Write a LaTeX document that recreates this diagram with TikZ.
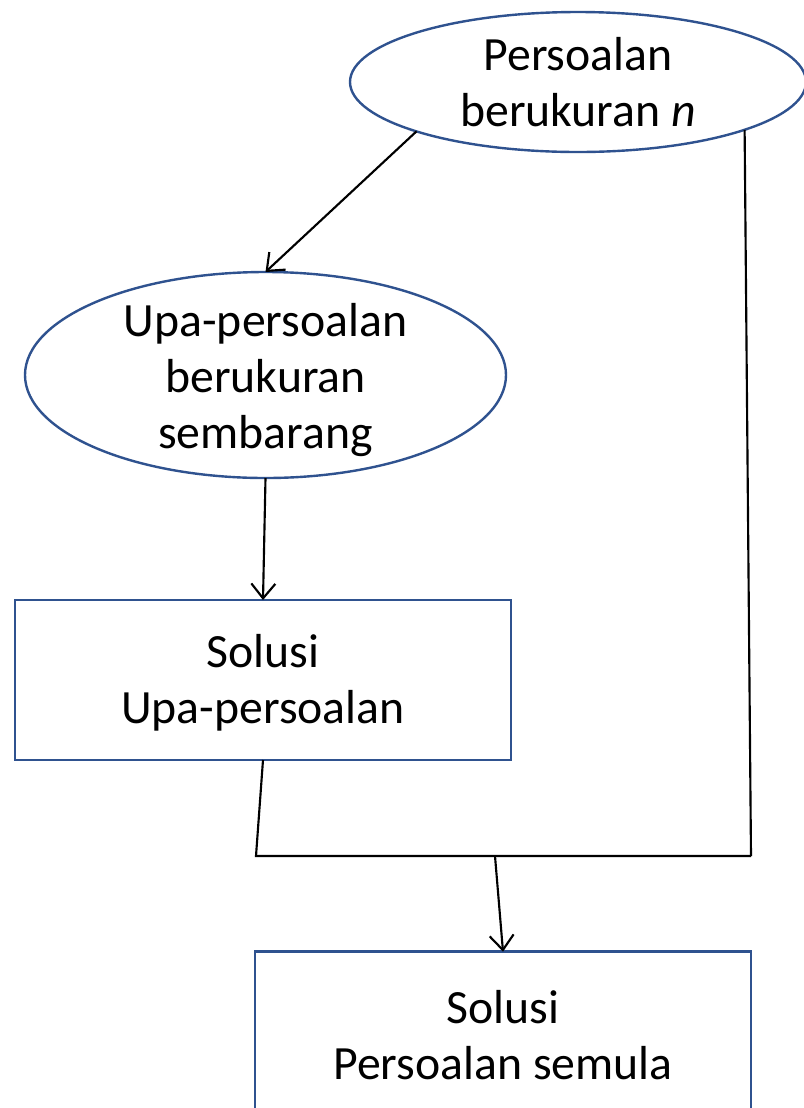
\documentclass[tikz,border=0pt]{standalone}
\usepackage{fontspec}
\setmainfont{Carlito}
\usetikzlibrary{shapes.geometric,arrows.meta}
\definecolor{shapeblue}{HTML}{2F528F}
\begin{document}
\begin{tikzpicture}[x=0.75pt,y=-0.75pt,
  shapeline/.style={draw=shapeblue,line width=1.8pt},
  oval/.style={shapeline,ellipse,inner sep=0pt,outer sep=0pt},
  boxnode/.style={shapeline,rectangle,inner sep=0pt,outer sep=0pt},
  label text/.style={align=center,font=\fontsize{35.8pt}{42pt}\selectfont,inner sep=0pt},
  conn/.style={draw=black,line width=1.6pt},
  arr/.style={conn,-{Straight Barb[length=11pt,width=18pt,line width=1.6pt]}}]
\useasboundingbox (0,0) rectangle (804,1108);
\fill[white] (0,0) rectangle (804,1108);
% nodes
\node[oval,minimum width=342pt,minimum height=105pt] (top) at (578,82) {};
\node[label text] (toptext) at (578,82) {Persoalan\\berukuran \textit{n}};
\node[oval,minimum width=360.75pt,minimum height=154.5pt] (mid) at (265.5,375) {};
\node[label text] (midtext) at (265.5,380) {Upa-persoalan\\berukuran\\sembarang};
\node[boxnode,minimum width=372pt,minimum height=120pt] (sub) at (263,680) {};
\node[label text] (subtext) at (263,683) {Solusi\\Upa-persoalan};
\node[boxnode,minimum width=372pt,minimum height=122pt] (orig) at (503,1033) {};
\node[label text] (origtext) at (503,1035) {Solusi\\Persoalan semula};
% junctions
\coordinate (jl) at (256,856);
\coordinate (jr) at (751,856);
\coordinate (jm) at (495,856);
% connectors
\draw[arr] (top.197) -- (mid.north);
\draw[arr] (mid.south) -- (sub.north);
\draw[conn] (top.-16) -- (jr);
\draw[conn] (sub.south) -- (jl) -- (jr);
\draw[arr] (jm) -- (orig.north);
\end{tikzpicture}
\end{document}
